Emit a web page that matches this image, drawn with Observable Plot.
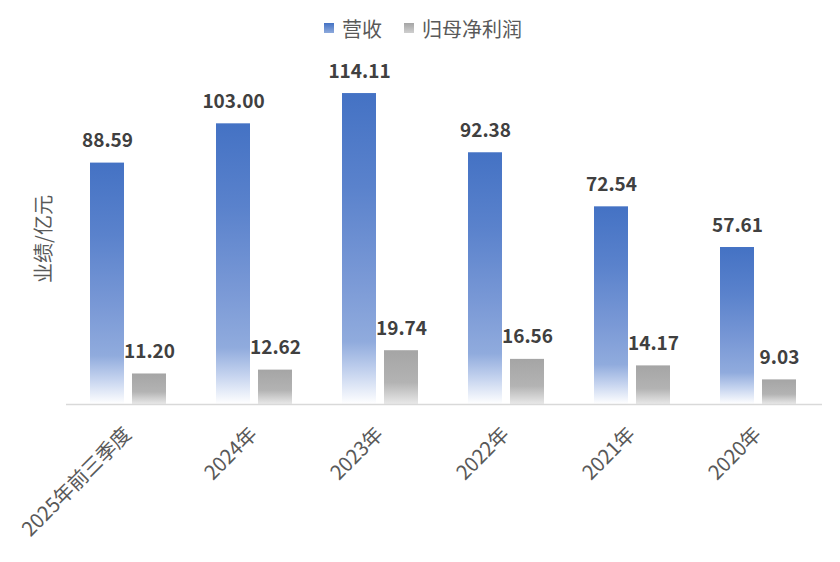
<!DOCTYPE html>
<html>
<head>
<meta charset="utf-8">
<script src="https://cdn.jsdelivr.net/npm/d3@7"></script>
<script src="https://cdn.jsdelivr.net/npm/@observablehq/plot@0.6"></script>
<style>
  body { margin: 0; background: #fff; font-family: "Noto Sans CJK SC", "Noto Sans", sans-serif; }
  #legend { height: 44px; padding-top: 6px; display: flex; justify-content: center; align-items: center; gap: 22px; font-size: 20px; color: #595959; padding-left: 6px; }
  .item { display: flex; align-items: center; gap: 8px; }
  .sw { width: 10px; height: 10px; display: inline-block; }
</style>
</head>
<body>
<div id="legend"></div>
<div id="chart"></div>
<script>
const categories = ["2025年前三季度", "2024年", "2023年", "2022年", "2021年", "2020年"];
const revenue = [88.59, 103.00, 114.11, 92.38, 72.54, 57.61];
const profit = [11.20, 12.62, 19.74, 16.56, 14.17, 9.03];
const seriesNames = ["营收", "归母净利润"];
const yLabel = "业绩/亿元";

const revData = categories.map((c, i) => ({cat: c, value: revenue[i]}));
const proData = categories.map((c, i) => ({cat: c, value: profit[i]}));

// legend
const legend = document.getElementById("legend");
legend.innerHTML = `
  <span class="item"><span class="sw" style="background:linear-gradient(#4472C4,#8eaadc)"></span>${seriesNames[0]}</span>
  <span class="item"><span class="sw" style="background:linear-gradient(#a5a5a5,#cfcfcf)"></span>${seriesNames[1]}</span>`;

const font = '"Noto Sans CJK SC", "Noto Sans", sans-serif';

const chart = Plot.plot({
  width: 840,
  height: 512,
  marginLeft: 66,
  marginRight: 18,
  marginTop: 27,
  marginBottom: 158,
  style: {fontFamily: font, background: "#fff"},
  x: {domain: categories, padding: 0, axis: null},
  y: {domain: [0, 120], axis: null},
  marks: [
    Plot.barY(revData, {x: "cat", y: "value", fill: "url(#gradBlue)", insetLeft: 24, insetRight: 68}),
    Plot.barY(proData, {x: "cat", y: "value", fill: "url(#gradGray)", insetLeft: 66, insetRight: 26}),
    Plot.ruleY([0], {stroke: "#d9d9d9", strokeWidth: 1.5}),
    Plot.text(revData, {x: "cat", y: "value", text: d => d.value.toFixed(2), dx: -22, dy: -16, lineAnchor: "bottom", fontSize: 19, fontWeight: "bold", fill: "#404040"}),
    Plot.text(proData, {x: "cat", y: "value", text: d => d.value.toFixed(2), dx: 20, dy: -16, lineAnchor: "bottom", fontSize: 19, fontWeight: "bold", fill: "#404040"}),
    Plot.text(categories, {x: d => d, y: () => 0, text: d => d, rotate: -45, textAnchor: "end", lineAnchor: "bottom", dx: 3, dy: 31, fontSize: 20, fill: "#595959"}),
    Plot.text([yLabel], {frameAnchor: "left", textAnchor: "middle", dx: -22, dy: -2, rotate: -90, fontSize: 20, fill: "#595959"})
  ]
});

const svg = d3.select(chart);
const defs = svg.insert("defs", ":first-child");
const gb = defs.append("linearGradient").attr("id", "gradBlue").attr("x1", 0).attr("y1", 0).attr("x2", 0).attr("y2", 1);
[[0, "#4472C4"], [0.3, "#5a82cc"], [0.6, "#7a99d6"], [0.8, "#90abdd"], [0.9, "#c6d4ef"], [1, "#ffffff"]]
  .forEach(([o, c]) => gb.append("stop").attr("offset", o).attr("stop-color", c));
const gg = defs.append("linearGradient").attr("id", "gradGray").attr("x1", 0).attr("y1", 0).attr("x2", 0).attr("y2", 1);
[[0, "#a5a5a5"], [0.6, "#b3b3b3"], [1, "#e8e8e8"]]
  .forEach(([o, c]) => gg.append("stop").attr("offset", o).attr("stop-color", c));

document.getElementById("chart").appendChild(chart);
</script>
</body>
</html>
